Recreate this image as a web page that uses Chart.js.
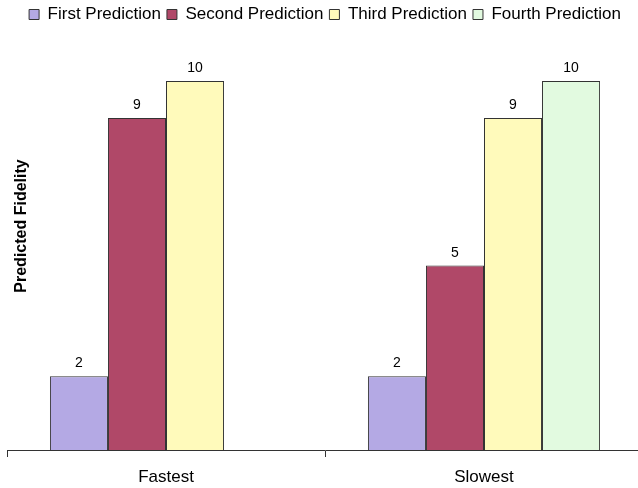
<!DOCTYPE html>
<html lang="en">
<head>
<meta charset="UTF-8">
<title>Predicted Fidelity</title>
<style>
    * { margin: 0; padding: 0; }
    body { background: #fff; width: 638px; height: 488px; overflow: hidden; }
    canvas { display: block; }
</style>
<script src="https://cdn.jsdelivr.net/npm/chart.js"></script>
</head>
<body>
<!-- a little wider than the window: the last category runs past the right edge -->
<canvas id="chart" width="643" height="488"></canvas>
<script>
    const categories = ["Fastest", "Slowest"];
    const seriesNames = ["First Prediction", "Second Prediction", "Third Prediction", "Fourth Prediction"];
    const firstValues = [2, 2];
    const secondValues = [9, 5];
    const thirdValues = [10, 9];
    const fourthValues = [null, 10];
    const seriesColors = ["#b4a9e4", "#b04868", "#fffabb", "#e2fae0"];

    const font = "'Liberation Sans', Arial, sans-serif";

    // value labels above each bar
    const barLabels = {
        id: "barLabels",
        afterDatasetsDraw(chart) {
            const ctx = chart.ctx;
            ctx.save();
            ctx.font = "14px " + font;
            ctx.fillStyle = "#000";
            ctx.textAlign = "center";
            ctx.textBaseline = "alphabetic";
            chart.data.datasets.forEach((ds, i) => {
                chart.getDatasetMeta(i).data.forEach((bar, j) => {
                    if (ds.data[j] == null) return;
                    ctx.fillText(ds.data[j], bar.x, bar.y - 9);
                });
            });
            ctx.restore();
        }
    };

    // rotated y title, placed like the original
    const yTitle = {
        id: "yTitle",
        afterDraw(chart) {
            const ctx = chart.ctx;
            ctx.save();
            ctx.translate(22, 226);
            ctx.rotate(-Math.PI / 2);
            ctx.font = "bold 16px " + font;
            ctx.fillStyle = "#000";
            ctx.textAlign = "center";
            ctx.textBaseline = "middle";
            ctx.fillText("Predicted Fidelity", 0, 0);
            ctx.restore();
        }
    };

    // leave room between the legend and the bars
    const legendGap = {
        id: "legendGap",
        beforeInit(chart) {
            const fit = chart.legend.fit;
            chart.legend.fit = function () {
                fit.call(this);
                this.height += 48;
            };
        }
    };

    const allValues = [firstValues, secondValues, thirdValues, fourthValues];

    new Chart(document.getElementById("chart"), {
        type: "bar",
        data: {
            labels: categories,
            datasets: seriesNames.map((name, i) => ({
                label: name,
                data: allValues[i],
                backgroundColor: seriesColors[i],
                borderColor: "#333",
                borderWidth: 1,
                barPercentage: 1,
                categoryPercentage: 0.73
            }))
        },
        options: {
            responsive: false,
            animation: false,
            layout: { padding: { left: 7, right: 0, top: 0, bottom: 0 } },
            plugins: {
                tooltip: { enabled: false },
                legend: {
                    position: "top",
                    labels: {
                        boxWidth: 10,
                        boxHeight: 10,
                        padding: 6,
                        color: "#000",
                        font: { family: font, size: 17 }
                    }
                }
            },
            scales: {
                x: {
                    offset: true,
                    border: { display: true, color: "#333" },
                    grid: { display: true, drawOnChartArea: false, tickLength: 7, color: "#333" },
                    ticks: { color: "#000", font: { family: font, size: 17 }, padding: 10 },
                    afterFit(scale) { scale.height = 38; }
                },
                y: {
                    display: false,
                    min: 0,
                    max: 10
                }
            }
        },
        plugins: [barLabels, yTitle, legendGap]
    });
</script>
</body>
</html>
